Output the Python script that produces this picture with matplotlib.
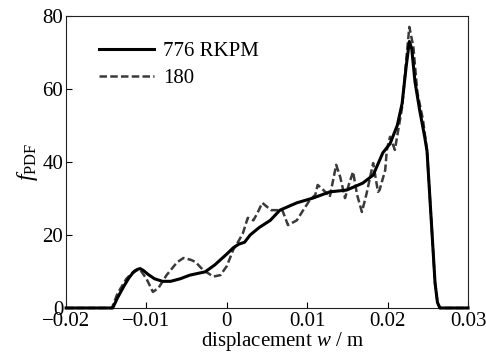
import numpy as np
import matplotlib.pyplot as plt

plt.rcParams['font.family'] = ['Liberation Serif', 'DejaVu Serif']
plt.rcParams['mathtext.fontset'] = 'custom'
plt.rcParams['mathtext.rm'] = 'Liberation Serif'
plt.rcParams['mathtext.it'] = 'Liberation Serif:italic'

# 776 RKPM nodes (solid)
w_rkpm = [-0.02, -0.0142, -0.0136, -0.0128, -0.0122, -0.0117, -0.0112, -0.0108, -0.0104,
          -0.0098, -0.0090, -0.0080, -0.0070, -0.0058, -0.0046, -0.0027, -0.0015, 0.0,
          0.0008, 0.0015, 0.0022, 0.0029, 0.0040, 0.0054, 0.0066, 0.0087, 0.0107,
          0.0128, 0.0149, 0.0169, 0.0182, 0.0194, 0.0203, 0.0212, 0.0218, 0.0223,
          0.0227, 0.0230, 0.0234, 0.0240, 0.0246, 0.0249, 0.0254, 0.0259, 0.0262,
          0.0265, 0.0300]
f_rkpm = [0.0, 0.0, 2.8, 6.0, 8.2, 9.6, 10.5, 10.8, 10.3,
          9.2, 8.0, 7.3, 7.3, 8.0, 9.0, 9.9, 11.8, 14.8,
          16.5, 17.5, 18.0, 20.0, 22.0, 24.0, 26.8, 28.8, 30.1,
          31.8, 32.3, 34.2, 36.4, 42.5, 45.0, 50.0, 56.0, 66.0,
          73.0, 71.0, 62.0, 54.0, 47.0, 43.0, 25.0, 6.8, 1.5,
          0.0, 0.0]

# 180 nodes (dashed)
w_180 = [-0.02, -0.0143, -0.0136, -0.0125, -0.0115, -0.0108, -0.0100, -0.0092, -0.0085,
         -0.0075, -0.0062, -0.0054, -0.0045, -0.0039, -0.0030, -0.0017, -0.0008, 0.0,
         0.0008, 0.0015, 0.0020, 0.0026, 0.0033, 0.0038, 0.0044, 0.0055, 0.0069,
         0.0076, 0.0087, 0.0095, 0.0103, 0.0110, 0.0113, 0.0119, 0.0124, 0.0128,
         0.0136, 0.0141, 0.0147, 0.0152, 0.0157, 0.0162, 0.0168, 0.0174, 0.0182,
         0.0188, 0.0190, 0.0197, 0.0199, 0.0203, 0.0209, 0.0218, 0.0224, 0.0227,
         0.0232, 0.0237, 0.0244, 0.0249, 0.0254, 0.0259, 0.0262, 0.0265, 0.0300]
f_180 = [0.0, 0.0, 4.0, 8.0, 10.2, 10.5, 8.0, 4.4, 5.5,
         9.0, 12.5, 13.7, 13.2, 12.6, 10.5, 8.6, 9.0, 11.5,
         16.0, 18.5, 20.5, 24.7, 24.0, 26.0, 28.8, 26.8, 26.8,
         22.7, 24.0, 26.8, 29.5, 31.0, 33.7, 32.5, 31.5, 30.4,
         39.2, 35.9, 30.1, 34.0, 37.3, 31.0, 26.3, 31.5, 39.7,
         31.8, 32.3, 37.8, 43.3, 46.9, 43.3, 55.0, 70.0, 77.0,
         71.5, 59.0, 51.5, 43.0, 25.0, 6.8, 1.5, 0.0, 0.0]

x_ticks = [-0.02, -0.01, 0, 0.01, 0.02, 0.03]
x_labels = ['\u22120.02', '\u22120.01', '0', '0.01', '0.02', '0.03']
y_ticks = [0, 20, 40, 60, 80]

fig = plt.figure(figsize=(4.86, 3.54), dpi=100)
ax = fig.add_axes([0.136, 0.130, 0.827, 0.825])

ax.plot(w_rkpm, f_rkpm, color='black', lw=2.2, label='776 RKPM', clip_on=False, zorder=3)
ax.plot(w_180, f_180, color='#3a3a3a', lw=1.8, ls=(0, (3, 1.3)), label='180', clip_on=False, zorder=2)

ax.set_xlim(-0.02, 0.03)
ax.set_ylim(0, 80)
ax.set_xticks(x_ticks)
ax.set_xticklabels(x_labels)
ax.set_yticks(y_ticks)
ax.tick_params(direction='in', length=4, width=0.8, labelsize=15, pad=2)
ax.tick_params(axis='x', pad=3)
for s in ax.spines.values():
    s.set_linewidth(0.8)
    s.set_color('#222222')

ax.set_xlabel('displacement $w$ / m', fontsize=15, labelpad=0)
ax.xaxis.set_label_coords(0.54, -0.075)
ax.set_ylabel(r'$f_{\mathrm{PDF}}$', fontsize=17, labelpad=2)

ax.legend(loc='upper left', bbox_to_anchor=(0.062, 0.94), frameon=False, fontsize=15,
          handlelength=2.6, handletextpad=0.45, labelspacing=0.35, borderaxespad=0)

fig.savefig('out.png', dpi=100)
